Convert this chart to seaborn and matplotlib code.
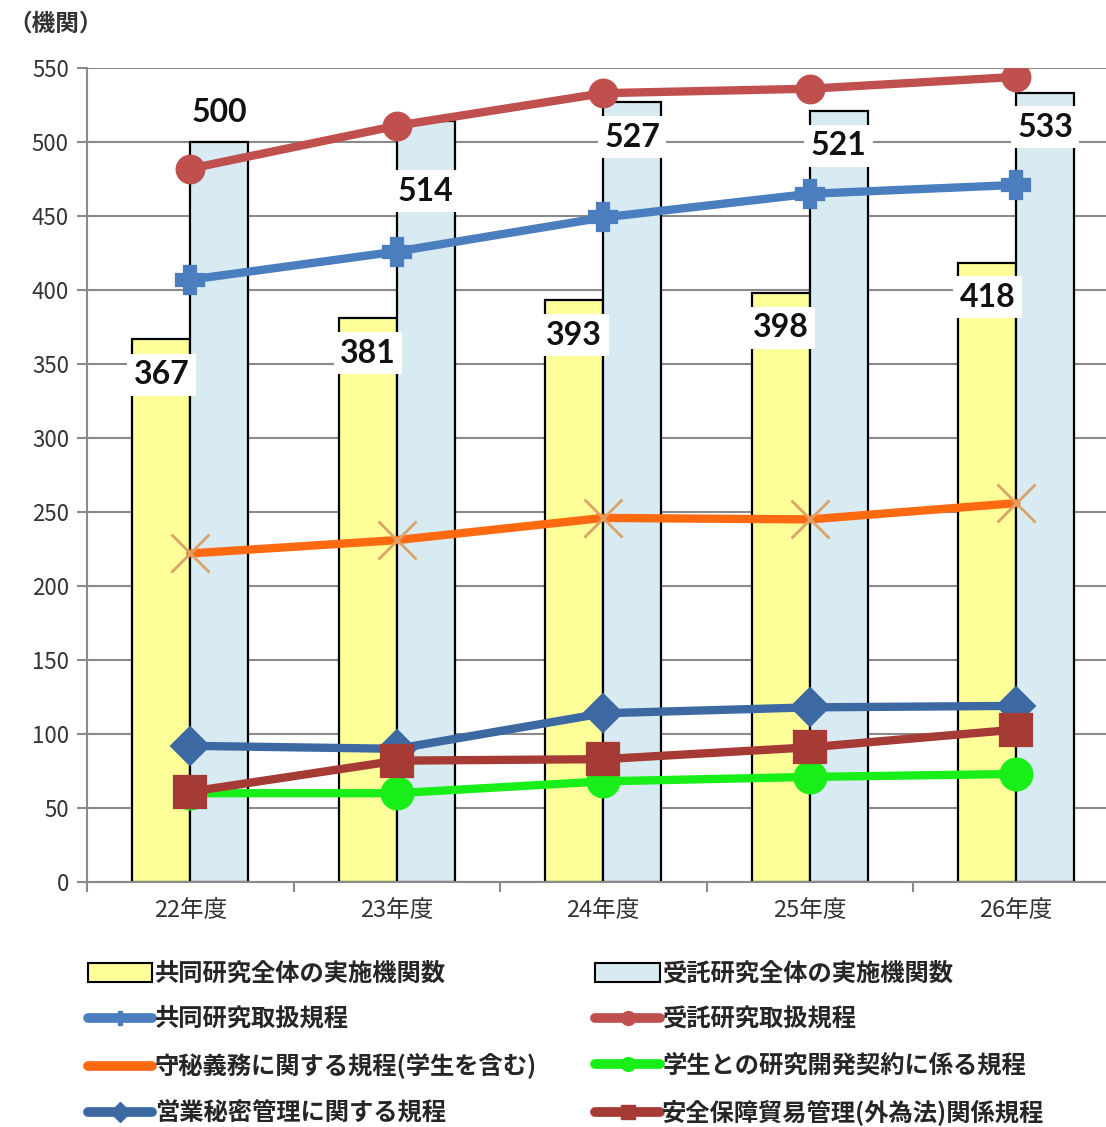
import numpy as np
import pandas as pd
import matplotlib
matplotlib.use("Agg")
import matplotlib.pyplot as plt
from matplotlib.lines import Line2D
from matplotlib.patches import Patch
import seaborn as sns

# ---- data -------------------------------------------------------------
years = ["22年度", "23年度", "24年度", "25年度", "26年度"]

bar_names = ["共同研究全体の実施機関数", "受託研究全体の実施機関数"]
joint_total = [367, 381, 393, 398, 418]
commissioned_total = [500, 514, 527, 521, 533]

joint_rules = [407, 426, 449, 465, 471]          # 共同研究取扱規程
commissioned_rules = [482, 511, 533, 536, 544]   # 受託研究取扱規程
confidentiality = [222, 231, 246, 245, 256]      # 守秘義務に関する規程(学生を含む)
student_contract = [60, 60, 68, 71, 73]          # 学生との研究開発契約に係る規程
trade_secret = [92, 90, 114, 118, 119]           # 営業秘密管理に関する規程
export_control = [61, 82, 83, 91, 103]           # 安全保障貿易管理(外為法)関係規程

line_names = [
    "共同研究取扱規程",
    "受託研究取扱規程",
    "守秘義務に関する規程(学生を含む)",
    "学生との研究開発契約に係る規程",
    "営業秘密管理に関する規程",
    "安全保障貿易管理(外為法)関係規程",
]
line_values = [joint_rules, commissioned_rules, confidentiality,
               student_contract, trade_secret, export_control]

# ---- styles -----------------------------------------------------------
bar_colors = ["#FFFF99", "#D8EAF2"]
line_styles = [
    dict(color="#4A7EBE", marker="P", ms=17),
    dict(color="#C0504D", marker="o", ms=17),
    dict(color="#FF6A10", marker="x", ms=28),
    dict(color="#18EE18", marker="o", ms=20),
    dict(color="#3D69A3", marker="D", ms=16),
    dict(color="#A63B36", marker="s", ms=20),
]
# label offsets (pixels) from each bar top
joint_label_dy = [-36, -35, -35, -35, -34]
comm_label_dy = [29, -70, -35, -35, -34]

sns.set_theme(style="white")
plt.rcParams["font.family"] = ["Noto Sans CJK JP", "DejaVu Sans"]

DPI = 100
W, H = 1106, 1127
fig = plt.figure(figsize=(W / DPI, H / DPI), dpi=DPI)
# the plotting area runs a little past the right edge of the figure
ax = fig.add_axes([87 / W, (H - 882) / H, 5 * 206.5 / W, 814 / H])

df = pd.DataFrame({
    "年度": years * 2,
    "機関数": joint_total + commissioned_total,
    "系列": [bar_names[0]] * 5 + [bar_names[1]] * 5,
})
sns.barplot(data=df, x="年度", y="機関数", hue="系列", hue_order=bar_names,
            palette=bar_colors, width=0.56, saturation=1, edgecolor="black",
            linewidth=1.6, legend=False, ax=ax, zorder=2)

for name, vals, st in zip(line_names, line_values, line_styles):
    sns.pointplot(x=years, y=vals, color=st["color"], markers=st["marker"],
                  linestyles="-", errorbar=None, ax=ax, linewidth=6.0,
                  markersize=st["ms"])
    ln = ax.lines[-1]
    ln.set_zorder(5)
    ln.set_markersize(st["ms"])
    ln.set_linewidth(6.0)
    if st["marker"] == "x":
        ln.set_markeredgecolor("#D9A36A")
        ln.set_markeredgewidth(2.0)
        ln.set_zorder(4)

# value labels on the bars
px2pt = 72 / DPI
for cont, dys in zip(ax.containers[:2], [joint_label_dy, comm_label_dy]):
    for bar, dy in zip(cont, dys):
        x = bar.get_x() + bar.get_width() / 2
        h = bar.get_height()
        ax.annotate(f"{h:.0f}", (x, h), xytext=(0, dy * px2pt),
                    textcoords="offset points", ha="center", va="center",
                    fontsize=23, fontweight="bold", family="Lato",
                    color="#111111", zorder=4,
                    bbox=dict(boxstyle="square,pad=0.2", fc="white", ec="none"))

# axes cosmetics
ax.set_ylim(0, 550)
ax.set_xlim(-0.5, 4.5)
ax.set_yticks(np.arange(0, 551, 50))
ax.yaxis.grid(True, color="#8a8a8a", linewidth=1.5)
ax.set_axisbelow(True)
ax.set_xlabel("")
ax.set_ylabel("")
for side in ["top", "right"]:
    ax.spines[side].set_visible(False)
for side in ["left", "bottom"]:
    ax.spines[side].set_color("#8a8a8a")
    ax.spines[side].set_linewidth(1.5)
ax.tick_params(axis="y", length=7, width=1.5, color="#8a8a8a", left=True,
               labelsize=16, labelcolor="#333333", pad=6)
ax.tick_params(axis="x", which="major", length=0, labelsize=17,
               labelcolor="#333333", pad=12)
ax.set_xticks(np.arange(-0.5, 5, 1.0), minor=True)
ax.tick_params(axis="x", which="minor", length=7, width=1.5, color="#8a8a8a",
               bottom=True, direction="out")

fig.text(8 / W, 1 - 24 / H, "（機関）", fontsize=17, color="#333333",
         va="center", ha="left", fontweight="bold")

# legend
bar_handles = [Patch(facecolor=c, edgecolor="black", linewidth=1.5)
               for c in bar_colors]
line_handles = [Line2D([], [], color=st["color"], linewidth=7,
                       marker=st["marker"] if st["marker"] != "x" else None,
                       markersize=10)
                for st in line_styles]
handles = [bar_handles[0], line_handles[0], line_handles[2], line_handles[4],
           bar_handles[1], line_handles[1], line_handles[3], line_handles[5]]
labels = [bar_names[0], line_names[0], line_names[2], line_names[4],
          bar_names[1], line_names[1], line_names[3], line_names[5]]
fig.legend(handles, labels, ncol=2, loc="upper left",
           bbox_to_anchor=(66 / W, 1 - 940 / H), frameon=False,
           prop=dict(family="Noto Sans CJK JP", size=17.5, weight="bold"),
           handlelength=2.65, handleheight=0.8, handletextpad=0.1,
           labelspacing=0.9, columnspacing=2.4)

fig.savefig("out.png", dpi=DPI, facecolor="white")
